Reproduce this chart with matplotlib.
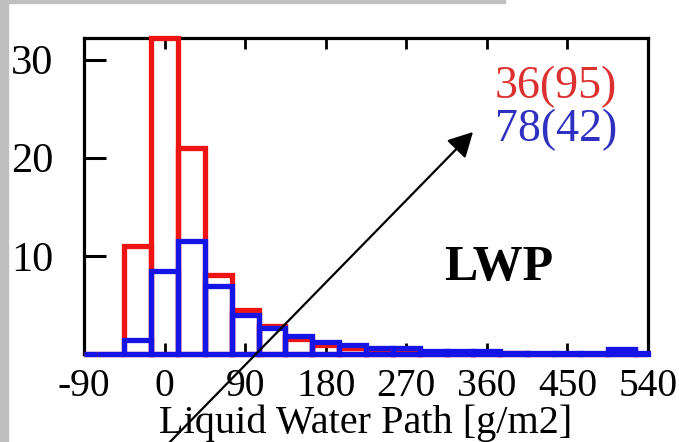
import numpy as np
import matplotlib
matplotlib.use("Agg")
import matplotlib.pyplot as plt
from matplotlib.patches import Rectangle

plt.rcParams["font.family"] = ["Liberation Serif", "DejaVu Serif"]
plt.rcParams["axes.unicode_minus"] = False

# histogram bins of liquid water path [g/m2]; outer bins are cut at the axis limits
bin_edges = [-90, -75, -45, -15, 15, 45, 75, 105, 135, 165, 195, 225, 255,
             285, 315, 345, 375, 405, 435, 465, 495, 525, 540]
red_counts = [0, 0, 11.0, 34.0, 21.0, 8.1, 4.5, 2.9, 1.5, 0.9, 0.6, 0.4, 0.3,
              0.2, 0.1, 0.1, 0.1, 0.0, 0.0, 0.0, 0.3, 0.0]
blue_counts = [0, 0, 1.4, 8.5, 11.5, 6.9, 4.0, 2.6, 1.8, 1.2, 0.9, 0.6, 0.6,
               0.3, 0.3, 0.3, 0.15, 0.15, 0.15, 0.15, 0.55, 0.1]
red_label = "36(95)"
blue_label = "78(42)"
x_ticks = [-90, 0, 90, 180, 270, 360, 450, 540]
y_ticks = [10, 20, 30]

RED = "#ee1414"
BLUE = "#1414e6"
Y_TOP = 32.2

W, H = 679, 442
fig = plt.figure(figsize=(W / 100, H / 100), dpi=100)
ax = fig.add_axes([84 / W, (H - 354) / H, (648 - 84) / W, (354 - 38) / H])

left = np.array(bin_edges[:-1])
widths = np.diff(bin_edges)
for counts, color in [(red_counts, RED), (blue_counts, BLUE)]:
    heights = np.minimum(counts, Y_TOP)
    bars = ax.bar(left, heights, width=widths, align="edge", fill=False,
                  edgecolor=color, linewidth=3.8, zorder=3)
    for b in bars:
        b.set_clip_on(False)

ax.set_xlim(-90, 540)
ax.set_ylim(0, Y_TOP)
ax.set_xticks(x_ticks)
ax.set_yticks(y_ticks)
ax.tick_params(axis="x", direction="in", top=True, length=8, width=2,
               labelsize=28.5, pad=10)
ax.tick_params(axis="y", direction="in", length=16, width=2.2,
               labelsize=30.5, pad=22)
for s in ax.spines.values():
    s.set_linewidth(2.3)
ax.set_xlabel("Liquid Water Path [g/m2]", fontsize=29, labelpad=0)

ax.text(0.945, 0.845, red_label, transform=ax.transAxes, ha="right",
        va="center", color="#dd3030", fontsize=33)
ax.text(0.945, 0.71, blue_label, transform=ax.transAxes, ha="right",
        va="center", color="#3030c0", fontsize=33)
ax.text(0.736, 0.272, "LWP", transform=ax.transAxes, ha="center",
        va="center", fontsize=36, fontweight="bold")

# arrow drawn across the whole figure, in pixel coordinates
ax.annotate("", xy=(473, H - 132), xycoords="figure pixels",
            xytext=(166, -4), textcoords="figure pixels",
            arrowprops=dict(arrowstyle="-|>,head_length=1.5,head_width=0.8",
                            color="black", lw=1.6, shrinkA=0, shrinkB=0),
            annotation_clip=False)

# grey frame strips on the left and top
fig.patches.append(Rectangle((0, 0), 8 / W, 1, transform=fig.transFigure,
                             color="#c0c0c0", zorder=0))
fig.patches.append(Rectangle((0, 1 - 3 / H), 505 / W, 3 / H,
                             transform=fig.transFigure, color="#c0c0c0",
                             zorder=0))

fig.savefig("out.png", dpi=100)
